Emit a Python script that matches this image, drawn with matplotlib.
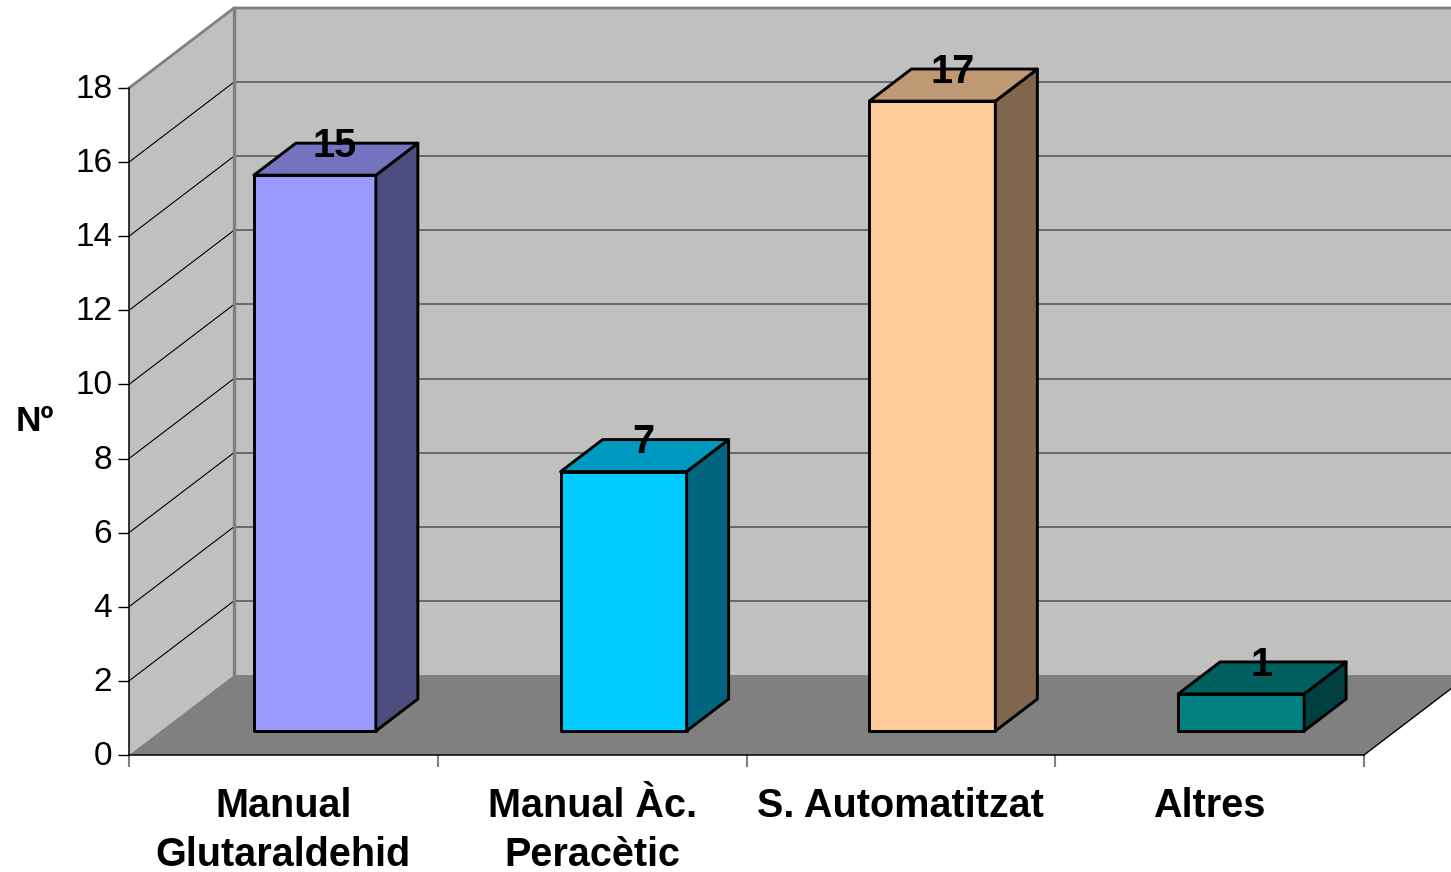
import numpy as np
import matplotlib
matplotlib.use('Agg')
import matplotlib.pyplot as plt
from matplotlib.patches import Polygon
from matplotlib.transforms import ScaledTranslation

plt.rcParams['font.family'] = ['Liberation Sans', 'DejaVu Sans']

categories = ['Manual\nGlutaraldehid', 'Manual Àc.\nPeracètic', 'S. Automatitzat', 'Altres']
values = [15, 7, 17, 1]
colors = ['#9999ff', '#00ccff', '#ffcc99', '#008080']
y_ticks = [0, 2, 4, 6, 8, 10, 12, 14, 16, 18]

W, H = 1451, 872
x_left, x_right, y_bottom, y_top = 129, 1364, 755, 88

# how far the 3d box goes back, in pixels
depth_px_x = 105
depth_px_y = 80
bar_front = 0.30
bar_width = [0.395, 0.408, 0.408, 0.408]
bar_depth = [0.40, 0.40, 0.40, 0.40]
GREY = '#808080'
WALL = '#c0c0c0'

fig = plt.figure(figsize=(W / 100, H / 100), dpi=100)
ax = fig.add_axes([x_left / W, 1 - y_bottom / H, (x_right - x_left) / W, (y_bottom - y_top) / H])
ax.set_xlim(0, len(values))
ax.set_ylim(0, y_ticks[-1])
ax.patch.set_alpha(0)

scale_x = len(values) / (x_right - x_left)
scale_y = y_ticks[-1] / (y_bottom - y_top)
dx = depth_px_x * scale_x
dy = depth_px_y * scale_y


def p(x, y, d=0.0):
    return (x + d * dx, y + d * dy)


def poly(pts, face, edge='none', lw=0, z=1):
    ax.add_patch(Polygon(pts, closed=True, facecolor=face, edgecolor=edge, linewidth=lw,
                         joinstyle='round', clip_on=False, zorder=z))


def shade(c, k):
    r, g, b = matplotlib.colors.to_rgb(c)
    return (r * k, g * k, b * k)


n = len(values)
top = y_ticks[-1]

# walls and floor
poly([p(0, 0), p(0, 0, 1), p(0, top, 1), p(0, top)], WALL, z=1)
poly([p(0, 0, 1), p(n, 0, 1), p(n, top, 1), p(0, top, 1)], WALL, z=1)
poly([p(0, 0), p(n, 0), p(n, 0, 1), p(0, 0, 1)], GREY, z=2)

for t in y_ticks[1:-1]:
    a, b, c = p(0, t), p(0, t, 1), p(n, t, 1)
    ax.plot([a[0], b[0]], [a[1], b[1]], color='black', lw=0.8, clip_on=False, zorder=3)
    ax.plot([b[0], c[0]], [b[1], c[1]], color='#505050', lw=1.1, clip_on=False, zorder=3)

# back wall outline
a, b, c, e = p(0, top), p(0, top, 1), p(n, top, 1), p(0, 0, 1)
ax.plot([a[0], b[0], c[0]], [a[1], b[1], c[1]], color=GREY, lw=2, clip_on=False, zorder=4)
ax.plot([b[0], e[0]], [b[1], e[1]], color=GREY, lw=2.4, clip_on=False, zorder=4)
# right edge of the floor
a, b = p(n, 0), p(n, 0, 1)
ax.plot([a[0], b[0]], [a[1], b[1]], color='black', lw=1, clip_on=False, zorder=4)

# bars
for i, v in enumerate(values):
    x0 = i + 0.5 - bar_width[i] / 2
    x1 = i + 0.5 + bar_width[i] / 2
    d0 = bar_front
    d1 = bar_front + bar_depth[i]
    kw = dict(edge='black', lw=2.1, z=5)
    poly([p(x0, 0, d0), p(x1, 0, d0), p(x1, v, d0), p(x0, v, d0)], colors[i], **kw)
    poly([p(x1, 0, d0), p(x1, 0, d1), p(x1, v, d1), p(x1, v, d0)], shade(colors[i], 0.5), **kw)
    poly([p(x0, v, d0), p(x1, v, d0), p(x1, v, d1), p(x0, v, d1)], shade(colors[i], 0.75), **kw)
    ax.annotate(str(v), p(i + 0.5, v, d0), xytext=(14.5, 21), textcoords='offset points',
                ha='center', va='center', fontsize=28.5, fontweight='bold', color='black',
                annotation_clip=False, zorder=6)

# axes
for s in ['top', 'right']:
    ax.spines[s].set_visible(False)
ax.spines['left'].set_linewidth(1.1)
ax.spines['bottom'].set_linewidth(1.1)
ax.spines['left'].set_zorder(7)
ax.spines['bottom'].set_zorder(7)
ax.set_yticks(y_ticks)
ax.tick_params(axis='y', length=8, width=1, pad=4, labelsize=24)
up = ScaledTranslation(0, 2 / 100, fig.dpi_scale_trans)
for lab in ax.get_yticklabels():
    lab.set_transform(lab.get_transform() + up)
ax.set_xticks(np.arange(n + 1))
ax.set_xticklabels([])
ax.tick_params(axis='x', length=8.5, width=1.5, color=GREY)
ax.get_xticklines()[0].set_color('black')
ax.get_xticklines()[0].set_linewidth(1)
ax.get_xticklines()[-1].set_linewidth(0.7)
ax.get_xticklines()[-1].set_color('black')

# category labels, pushed down from the axis
for i, c in enumerate(categories):
    ax.annotate(c, (i + 0.5, 0), xytext=(0, -23), textcoords='offset points',
                ha='center', va='top', fontsize=28.5, fontweight='bold', linespacing=1.36,
                annotation_clip=False)

fig.text(34.5 / W, 1 - 421 / H, 'Nº', ha='center', va='center', fontsize=25.5, fontweight='bold')

fig.savefig('out.png', dpi=100, facecolor='white')
